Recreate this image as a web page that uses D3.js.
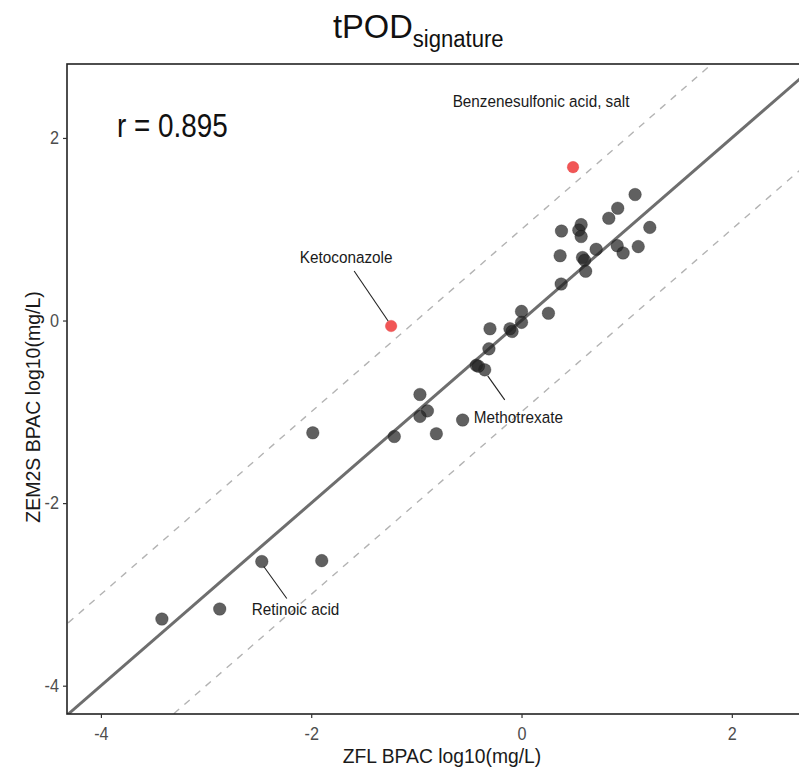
<!DOCTYPE html>
<html>
<head>
<meta charset="utf-8">
<script src="https://cdn.jsdelivr.net/npm/d3@7"></script>
<style>
  html, body { margin: 0; padding: 0; background: #fff; }
  svg { display: block; }
  text { font-family: "Liberation Sans", Arial, Helvetica, sans-serif; }
</style>
</head>
<body>
<svg id="chart" width="799" height="775"></svg>
<script>
// ---- data ----
const compounds = [
  "Benzenesulfonic acid, salt", "Ketoconazole", "c3", "c4", "c5", "c6", "c7", "c8", "c9", "c10",
  "c11", "c12", "c13", "c14", "c15", "c16", "c17", "c18", "c19", "c20",
  "c21", "c22", "c23", "c24", "c25", "c26", "Methotrexate", "c28", "c29", "c30",
  "c31", "c32", "c33", "c34", "Retinoic acid", "c36", "c37", "c38", "c39", "c40"
];
const zflBPAC = [
  0.49, -1.24, 1.08, 0.915, 0.83, 1.22, 0.38, 0.567, 0.545, 0.567,
  0.367, 0.71, 0.91, 0.966, 1.11, 0.58, 0.60, 0.61, 0.377, 0.0,
  0.0, 0.256, -0.30, -0.11, -0.09, -0.31, -0.35, -0.43, -0.41, -0.966,
  -0.895, -0.966, -0.56, -1.21, -2.47, -0.81, -1.985, -1.90, -2.87, -3.42
];
const zem2sBPAC = [
  1.68, -0.06, 1.38, 1.23, 1.12, 1.02, 0.98, 1.05, 0.99, 0.92,
  0.71, 0.78, 0.82, 0.74, 0.81, 0.69, 0.66, 0.54, 0.40, 0.10,
  -0.02, 0.08, -0.09, -0.09, -0.12, -0.31, -0.54, -0.49, -0.50, -0.81,
  -0.99, -1.05, -1.09, -1.27, -2.64, -1.24, -1.23, -2.63, -3.16, -3.27
];
const outliers = ["Benzenesulfonic acid, salt", "Ketoconazole"];
const labelled = ["Benzenesulfonic acid, salt", "Ketoconazole", "Methotrexate", "Retinoic acid"];
const xTicks = [-4, -2, 0, 2];
const yTicks = [-4, -2, 0, 2];
const xDomain = [-4.3225, 2.81];
const yDomain = [-4.31, 2.81];
const rValue = "0.895";
const foldOffset = 1;

// ---- layout ----
const svg = d3.select("#chart");
const panel = { left: 67, top: 64, right: 817, bottom: 714 };
const x = d3.scaleLinear().domain(xDomain).range([panel.left, panel.right]);
const y = d3.scaleLinear().domain(yDomain).range([panel.bottom, panel.top]);
const squeeze = 0.9;

const pts = compounds.map((c, i) => ({ name: c, x: zflBPAC[i], y: zem2sBPAC[i] }));

// clip
svg.append("defs").append("clipPath").attr("id", "clip")
  .append("rect").attr("x", panel.left).attr("y", panel.top)
  .attr("width", panel.right - panel.left).attr("height", panel.bottom - panel.top);

const plot = svg.append("g").attr("clip-path", "url(#clip)");

// lines y = x and y = x +/- 1
const lx = [xDomain[0] - 2, xDomain[1] + 2];
[-foldOffset, foldOffset].forEach(off => {
  plot.append("line")
    .attr("x1", x(lx[0])).attr("y1", y(lx[0] + off))
    .attr("x2", x(lx[1])).attr("y2", y(lx[1] + off))
    .attr("stroke", "#b3b3b3").attr("stroke-width", 1.4)
    .attr("stroke-dasharray", "7,7");
});
plot.append("line")
  .attr("x1", x(lx[0])).attr("y1", y(lx[0]))
  .attr("x2", x(lx[1])).attr("y2", y(lx[1]))
  .attr("stroke", "#6e6e6e").attr("stroke-width", 3);

// points
plot.selectAll("circle.pt").data(pts).join("circle")
  .attr("class", "pt")
  .attr("cx", d => x(d.x)).attr("cy", d => y(d.y))
  .attr("r", d => outliers.includes(d.name) ? 5.8 : 6.3)
  .attr("fill", d => outliers.includes(d.name) ? "#ef4444" : "#222")
  .attr("fill-opacity", d => outliers.includes(d.name) ? 0.9 : 0.72)
  .attr("stroke", d => outliers.includes(d.name) ? "#d33" : "#111")
  .attr("stroke-opacity", 0.35)
  .attr("stroke-width", 0.8);

// labels (layout offsets in px relative to the point)
const labelLayout = {
  "Benzenesulfonic acid, salt": { dx: -32, dy: -60, anchor: "middle", seg: null },
  "Ketoconazole": { dx: -45, dy: -63, anchor: "middle", seg: [-37, -55, -3, -5] },
  "Methotrexate": { dx: -11, dy: 53, anchor: "start", seg: [3, 6, 20, 30] },
  "Retinoic acid": { dx: -10, dy: 53, anchor: "start", seg: [2, 5, 25, 37] }
};
const lab = svg.append("g");
pts.filter(d => labelled.includes(d.name)).forEach(d => {
  const L = labelLayout[d.name];
  const px = x(d.x), py = y(d.y);
  if (L.seg) {
    lab.append("line")
      .attr("x1", px + L.seg[0]).attr("y1", py + L.seg[1])
      .attr("x2", px + L.seg[2]).attr("y2", py + L.seg[3])
      .attr("stroke", "#222").attr("stroke-width", 1.1);
  }
  lab.append("text")
    .attr("transform", `translate(${px + L.dx},${py + L.dy}) scale(${squeeze},1)`)
    .attr("text-anchor", L.anchor)
    .attr("font-size", 17).attr("fill", "#1a1a1a")
    .text(d.name);
});

// panel border
svg.append("rect")
  .attr("x", panel.left).attr("y", panel.top)
  .attr("width", panel.right - panel.left).attr("height", panel.bottom - panel.top)
  .attr("fill", "none").attr("stroke", "#222").attr("stroke-width", 1.6);

// axes
const fmt = d => String(d);
const xAxis = svg.append("g").attr("transform", `translate(0,${panel.bottom})`)
  .call(d3.axisBottom(x).tickValues(xTicks).tickSize(4).tickPadding(9).tickFormat(fmt));
const yAxis = svg.append("g").attr("transform", `translate(${panel.left},0)`)
  .call(d3.axisLeft(y).tickValues(yTicks).tickSize(4).tickPadding(4).tickFormat(fmt));
[xAxis, yAxis].forEach(a => {
  a.select(".domain").remove();
  a.selectAll(".tick line").attr("stroke", "#333").attr("stroke-width", 1.2);
  a.selectAll(".tick text")
    .attr("font-size", 18).attr("fill", "#4d4d4d")
    .attr("font-family", "Liberation Sans, Arial, sans-serif");
});
xAxis.selectAll(".tick text").attr("transform", `scale(${squeeze},1)`);
yAxis.selectAll(".tick text").attr("transform", `scale(${squeeze},1)`).attr("x", -8 / squeeze);

// axis titles
svg.append("text")
  .attr("transform", `translate(${(panel.left + panel.right) / 2},763) scale(0.92,1)`)
  .attr("text-anchor", "middle").attr("font-size", 21).attr("fill", "#1a1a1a")
  .text("ZFL BPAC log10(mg/L)");
svg.append("text")
  .attr("transform", `translate(40,${(panel.top + panel.bottom) / 2 + 18}) rotate(-90)`)
  .attr("text-anchor", "middle").attr("font-size", 19.5).attr("fill", "#1a1a1a")
  .text("ZEM2S BPAC log10(mg/L)");

// title
const title = svg.append("text")
  .attr("transform", `translate(333,38) scale(0.96,1)`)
  .attr("fill", "#111");
title.append("tspan").attr("font-size", 34).text("tPOD");
title.append("tspan").attr("font-size", 23).attr("dy", 9).text("signature");

// r annotation
svg.append("text")
  .attr("transform", `translate(117,137) scale(0.82,1)`)
  .attr("font-size", 34).attr("fill", "#111")
  .text("r = " + rValue);
</script>
</body>
</html>
